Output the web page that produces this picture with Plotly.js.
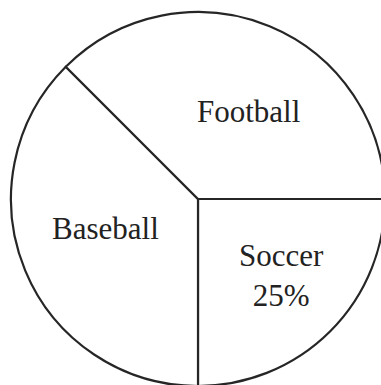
<!DOCTYPE html>
<html>
<head>
<meta charset="utf-8">
<script src="https://cdn.plot.ly/plotly-3.0.1.min.js"></script>
<style>
html, body { margin: 0; padding: 0; overflow: hidden; background: #fff; }
#chart { width: 385px; height: 386px; }
</style>
</head>
<body>
<div id="chart"></div>
<script>
// Data (order: clockwise from 3 o'clock)
const labels = ["Soccer", "Baseball", "Football"];
const values = [25, 37.5, 37.5];
const showPercent = [true, false, false];
// label positions (paper coordinates) for each slice
const labelX = [0.722, 0.253, 0.634];
const labelY = [0.295, 0.421, 0.733];

const trace = {
  type: "pie",
  labels: labels,
  values: values,
  sort: false,
  direction: "clockwise",
  rotation: 90,
  textinfo: "none",
  hoverinfo: "none",
  showlegend: false,
  marker: {
    colors: labels.map(() => "#ffffff"),
    line: { color: "#262626", width: 2.2 }
  },
  domain: { x: [0, 1], y: [0, 1] }
};

const total = values.reduce((a, b) => a + b, 0);
const annotations = labels.map((lab, i) => ({
  xref: "paper", yref: "paper",
  x: labelX[i], y: labelY[i],
  xanchor: "center", yanchor: "middle",
  showarrow: false,
  text: showPercent[i] ? lab + "<br>" + Math.round(values[i] / total * 100) + "%" : lab,
  font: { family: "Liberation Serif, Times New Roman, serif", size: 31, color: "#222" }
}));

const layout = {
  width: 385, height: 386,
  margin: { l: 11, r: 0, t: 12, b: 0, pad: 0 },
  paper_bgcolor: "#fff",
  plot_bgcolor: "#fff",
  annotations: annotations
};

Plotly.newPlot("chart", [trace], layout, { displayModeBar: false, staticPlot: true });
</script>
</body>
</html>
